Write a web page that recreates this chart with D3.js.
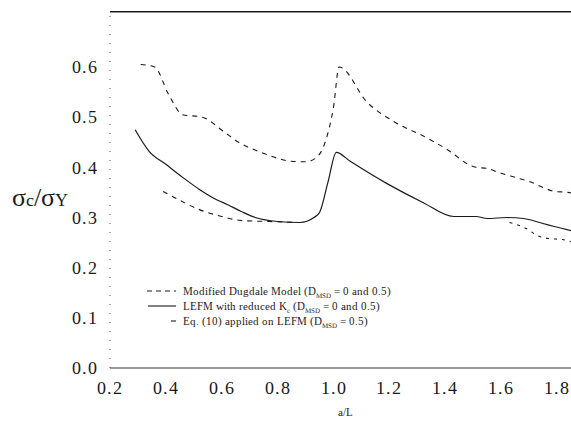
<!DOCTYPE html>
<html><head><meta charset="utf-8">
<script src="https://cdn.jsdelivr.net/npm/d3@7"></script>
<style>
@font-face{font-family:"SerifX";src:local("Liberation Serif"),local("LiberationSerif"),local("LiberationSerif-Regular"),local("DejaVu Serif"),local("DejaVuSerif"),local("Times New Roman");}
html,body{margin:0;padding:0;background:#fff;}
svg{display:block;}
</style></head>
<body>
<svg id="c" width="571" height="425"></svg>
<script>
// ---- data ----
const xTicks = [0.2, 0.4, 0.6, 0.8, 1.0, 1.2, 1.4, 1.6, 1.8];
const yTicks = [0.0, 0.1, 0.2, 0.3, 0.4, 0.5, 0.6];

// Modified Dugdale model, D_MSD = 0 (upper dashed curve)
const dugdaleX = [0.31, 0.36, 0.41, 0.46, 0.53, 0.61, 0.66, 0.74, 0.80, 0.85, 0.90, 0.94, 0.97, 1.00, 1.02, 1.12, 1.22, 1.33, 1.40, 1.51, 1.55, 1.59, 1.65, 1.70, 1.75, 1.79, 1.84, 1.88];
const dugdaleY = [0.605, 0.600, 0.545, 0.505, 0.500, 0.470, 0.450, 0.430, 0.418, 0.412, 0.411, 0.420, 0.450, 0.520, 0.600, 0.530, 0.490, 0.460, 0.438, 0.400, 0.398, 0.390, 0.380, 0.372, 0.360, 0.352, 0.350, 0.344];

// Modified Dugdale model, D_MSD = 0.5 (lower dashed curve)
const dugdale2X = [0.39, 0.43, 0.51, 0.60, 0.67, 0.77, 0.87];
const dugdale2Y = [0.352, 0.340, 0.318, 0.302, 0.294, 0.292, 0.290];

// LEFM with reduced Kc (solid)
const lefmX = [0.29, 0.34, 0.40, 0.46, 0.52, 0.58, 0.62, 0.67, 0.72, 0.80, 0.88, 0.93, 0.95, 0.98, 1.01, 1.06, 1.19, 1.32, 1.43, 1.51, 1.55, 1.62, 1.68, 1.75, 1.79, 1.88];
const lefmY = [0.475, 0.432, 0.406, 0.380, 0.356, 0.336, 0.326, 0.312, 0.300, 0.292, 0.290, 0.300, 0.310, 0.370, 0.430, 0.412, 0.368, 0.330, 0.302, 0.302, 0.298, 0.300, 0.298, 0.288, 0.282, 0.270];

// Eq. (10) applied on LEFM, D_MSD = 0.5 (short dashes)
const eq10X = [1.63, 1.69, 1.73, 1.77, 1.82, 1.88];
const eq10Y = [0.290, 0.278, 0.264, 0.258, 0.256, 0.246];

// ---- drawing ----
const FONT = "SerifX,'Liberation Serif','Times New Roman',serif";
const svg = d3.select("#c").attr("font-family", FONT);
const x = d3.scaleLinear().domain([0.2, 1.8]).range([110, 557]);
const y = d3.scaleLinear().domain([0, 0.6]).range([368, 67]);
const ink = "#1a1a1a";
const xEnd = x.invert(571);

// frame: top line, bottom axis, left axis
svg.append("line").attr("x1", x(0.2)).attr("x2", x(xEnd)).attr("y1", y(0.71)).attr("y2", y(0.71))
  .attr("stroke", ink).attr("stroke-width", 1.4);
svg.append("line").attr("x1", x(0.2)).attr("x2", x(xEnd)).attr("y1", y(0)).attr("y2", y(0))
  .attr("stroke", "#333").attr("stroke-width", 1.1);
svg.append("line").attr("x1", x(0.2)).attr("x2", x(0.2)).attr("y1", y(0)).attr("y2", y(0.71))
  .attr("stroke", "#555").attr("stroke-width", 1).attr("stroke-dasharray", "1,8");

// y tick labels
svg.append("g").selectAll("text").data(yTicks).join("text")
  .attr("x", 98).attr("y", d => y(d)).attr("dy", "0.35em")
  .attr("text-anchor", "end").attr("font-size", 18).attr("letter-spacing", 1)
  .attr("fill", ink).text(d => d.toFixed(1));

// x tick labels
svg.append("g").selectAll("text").data(xTicks).join("text")
  .attr("x", d => x(d)).attr("y", 388).attr("dy", "0.35em")
  .attr("text-anchor", "middle").attr("font-size", 18).attr("letter-spacing", 1)
  .attr("fill", ink).text(d => d.toFixed(1));

// axis titles
const yt = svg.append("text").attr("x", 12).attr("y", 206).attr("font-size", 26).attr("fill", ink);
yt.append("tspan").text("σ");
yt.append("tspan").attr("font-size", 18).text("c");
yt.append("tspan").text("/σ");
yt.append("tspan").attr("font-size", 18).text("Y");
svg.append("text").attr("x", 345).attr("y", 416).attr("text-anchor", "middle")
  .attr("font-size", 11).attr("fill", ink).text("a/L");

// curves
const lineC = d3.line().x(d => x(d[0])).y(d => y(d[1])).curve(d3.curveMonotoneX);
function draw(xs, ys, dash, w) {
  svg.append("path").datum(xs.map((v, i) => [v, ys[i]]))
    .attr("d", lineC).attr("fill", "none").attr("stroke", ink)
    .attr("stroke-width", w).attr("stroke-dasharray", dash);
}
draw(dugdaleX, dugdaleY, "5,5", 1.1);
draw(dugdale2X, dugdale2Y, "5,5", 1.1);
draw(lefmX, lefmY, null, 1.2);
draw(eq10X, eq10Y, "3,5", 1.1);

// legend
const leg = [
  {dash: "5,4", x1: 147, x2: 176, label: ["Modified Dugdale Model (D", "MSD", " = 0 and 0.5)"]},
  {dash: null, x1: 148, x2: 176, label: ["LEFM with reduced K", "c", " (D", "MSD", " = 0 and 0.5)"]},
  {dash: null, x1: 171, x2: 176, label: ["Eq. (10) applied on LEFM (D", "MSD", " = 0.5)"]}
];
const ly = [291, 306, 321];
leg.forEach((e, i) => {
  svg.append("line").attr("x1", e.x1).attr("x2", e.x2).attr("y1", ly[i]).attr("y2", ly[i])
    .attr("stroke", ink).attr("stroke-width", 1.1).attr("stroke-dasharray", e.dash);
  const t = svg.append("text").attr("x", 183).attr("y", ly[i] + 4).attr("font-size", 11).attr("fill", ink);
  e.label.forEach((s, k) => {
    const sub = (k % 2 === 1);
    t.append("tspan").attr("font-size", sub ? 7 : 11).attr("dy", sub ? 3 : (k > 0 ? -3 : 0)).text(s);
  });
});
</script>
</body></html>
